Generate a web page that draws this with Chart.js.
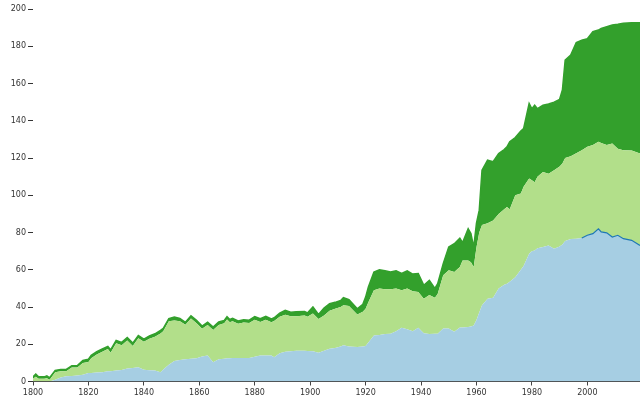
<!DOCTYPE html>
<html>
<head>
<meta charset="utf-8">
<script src="https://cdn.jsdelivr.net/npm/chart.js@4"></script>
<style>
  html, body { margin: 0; padding: 0; background: #fff; }
  #wrap { width: 640px; height: 400px; }
</style>
</head>
<body>
<div id="wrap"><canvas id="areas" width="640" height="400"></canvas></div>
<script>
const years = [
  1800, 1801, 1802, 1804, 1805, 1806, 1808, 1810, 1812, 1814, 1816, 1818, 1820, 1821, 1823, 1825,
  1827, 1828, 1830, 1832, 1834, 1836, 1838, 1840, 1842, 1844, 1846, 1847, 1849, 1851, 1853, 1855,
  1857, 1859, 1861, 1863, 1865, 1867, 1869, 1870, 1871, 1872, 1874, 1876, 1878, 1880, 1882, 1884,
  1886, 1887, 1889, 1891, 1893, 1895, 1898, 1899, 1901, 1903, 1905, 1907, 1909, 1911, 1912, 1914,
  1917, 1919, 1920, 1921, 1923, 1925, 1927, 1929, 1931, 1933, 1935, 1937, 1939, 1941, 1943, 1945,
  1946, 1948, 1950, 1952, 1954, 1955, 1957, 1958, 1959, 1960, 1961, 1962, 1964, 1966, 1968, 1970,
  1971, 1972, 1974, 1976, 1977, 1979, 1980, 1981, 1982, 1984, 1986, 1988, 1990, 1991, 1992, 1994,
  1996, 1998, 2000, 2002, 2004, 2005, 2007, 2009, 2011, 2013, 2016, 2019
];

const blueValues = [
  0, 0, 0, 0, 0, 0, 1.0, 2.2, 2.8, 3.0, 3.2, 3.6, 4.5, 4.6, 4.8, 5.0,
  5.5, 5.5, 5.9, 6.2, 7.0, 7.3, 7.6, 6.3, 6.0, 5.9, 5.0, 6.5, 9.0, 11.0, 11.6, 12.0,
  12.2, 12.5, 13.4, 14.0, 10.4, 12.0, 12.2, 12.5, 12.5, 12.6, 12.6, 12.6, 12.6, 13.3, 14.0, 14.0,
  14.0, 13.0, 15.2, 16.0, 16.3, 16.5, 16.5, 16.4, 16.3, 15.5, 16.5, 17.6, 18.0, 18.8, 19.4, 18.8,
  18.5, 18.8, 19.0, 21.0, 24.7, 25.0, 25.5, 25.6, 27.0, 28.8, 28.0, 27.0, 28.8, 25.9, 25.5, 25.6,
  25.6, 28.5, 28.5, 26.7, 29.0, 29.0, 29.2, 29.5, 30.1, 33.0, 37.0, 40.9, 44.4, 45.0, 50.0, 52.0,
  52.5, 53.5, 56.0, 60.0, 62.0, 68.6, 70.0, 70.4, 71.5, 72.2, 73.0, 71.3, 72.5, 73.5, 75.5, 76.5,
  76.7, 77.0, 78.5, 79.4, 82.0, 80.3, 79.8, 77.6, 78.5, 76.7, 75.8, 73.0
];

const lightGreenValues = [
  1.5, 2.5, 1.5, 1.5, 1.8, 1.0, 4.0, 3.3, 2.7, 4.5, 4.3, 6.4, 6.0, 7.9, 9.7, 11.0,
  12.0, 10.0, 14.6, 13.3, 15.0, 11.7, 15.6, 15.0, 17.0, 18.1, 20.8, 20.5, 23.3, 21.8, 20.7, 18.5,
  21.6, 18.8, 14.9, 16.3, 17.3, 18.4, 19.1, 20.8, 19.3, 19.8, 18.4, 19.1, 18.8, 19.9, 18.0, 19.2,
  17.8, 19.5, 19.6, 19.8, 18.7, 18.5, 19.0, 18.4, 20.2, 18.0, 19.0, 20.4, 21.0, 21.2, 21.6, 21.7,
  17.5, 18.7, 20.0, 21.5, 24.3, 25.0, 24.0, 23.9, 23.0, 20.2, 22.0, 21.5, 19.2, 18.5, 21.0, 19.4,
  21.4, 28.5, 31.2, 32.1, 32.5, 36.0, 35.8, 34.5, 31.4, 39.0, 43.0, 43.1, 40.6, 41.5, 40.0, 40.5,
  41.2, 39.0, 44.0, 41.0, 42.5, 40.4, 38.0, 36.6, 38.5, 40.3, 38.6, 42.1, 43.0, 43.5, 44.5, 44.5,
  45.8, 47.2, 47.5, 47.6, 46.7, 47.7, 47.2, 50.2, 46.5, 47.5, 48.2, 49.4
];

const darkGreenValues = [
  1.0, 1.5, 1.0, 1.0, 1.2, 1.0, 1.0, 1.0, 1.0, 1.0, 1.0, 1.3, 1.5, 1.5, 1.5, 1.5,
  1.3, 1.5, 1.5, 1.5, 1.6, 1.6, 1.5, 1.5, 1.5, 1.6, 1.6, 1.5, 1.5, 1.8, 1.5, 1.3,
  1.5, 1.5, 1.5, 1.5, 1.5, 1.6, 1.5, 1.5, 1.5, 1.5, 1.5, 1.5, 1.5, 1.7, 1.7, 1.8,
  1.8, 1.7, 1.9, 2.4, 2.2, 2.4, 2.1, 2.0, 3.5, 2.5, 4.0, 3.8, 3.5, 3.5, 4.0, 3.5,
  3.0, 4.0, 6.3, 8.2, 9.8, 10.0, 10.0, 9.3, 9.5, 9.0, 9.4, 9.2, 10.0, 7.2, 7.8, 5.0,
  5.5, 6.3, 12.5, 15.2, 15.5, 9.6, 17.0, 15.4, 10.5, 13.0, 12.0, 29.4, 33.8, 31.5, 32.4, 32.0,
  32.3, 36.2, 31.0, 33.5, 31.3, 40.3, 38.4, 41.3, 36.5, 35.8, 37.4, 36.6, 36.0, 39.5, 52.6, 54.3,
  59.5, 59.1, 58.0, 60.8, 60.0, 61.5, 63.5, 63.6, 66.8, 68.1, 68.6, 70.2
];

const yearTicks = [1800, 1820, 1840, 1860, 1880, 1900, 1920, 1940, 1960, 1980, 2000];
const lineFromYear = 1998;

function toPoints(values) {
  return years.map((yr, i) => ({ x: yr, y: values[i] }));
}

function buildDatasets() {
  const blueLine = toPoints(blueValues).filter((p) => p.x >= lineFromYear);

  return [
    {
      data: toPoints(blueValues),
      backgroundColor: '#a6cee3',
      borderWidth: 0,
      fill: 'origin',
      stack: 'areas',
    },
    {
      data: toPoints(lightGreenValues),
      backgroundColor: '#b2df8a',
      borderWidth: 0,
      fill: '-1',
      stack: 'areas',
    },
    {
      data: toPoints(darkGreenValues),
      backgroundColor: '#33a02c',
      borderColor: '#33a02c',
      borderWidth: 1.5,
      fill: '-1',
      stack: 'areas',
    },
    {
      // dark outline on the blue layer for the latest years
      data: blueLine,
      borderColor: '#1f78b4',
      borderWidth: 1.2,
      fill: false,
      stack: 'line',
      order: -1,
    },
  ];
}

function drawChart() {
  const tickFont = { family: 'DejaVu Sans', size: 8 };
  const ctx = document.getElementById('areas').getContext('2d');

  new Chart(ctx, {
    type: 'line',
    data: { datasets: buildDatasets() },
    options: {
      responsive: false,
      animation: false,
      events: [],
      elements: { point: { radius: 0 }, line: { tension: 0 } },
      layout: { padding: { top: 9, right: 0, left: 0, bottom: 0 } },
      plugins: {
        legend: { display: false },
        tooltip: { enabled: false },
      },
      scales: {
        x: {
          type: 'linear',
          min: 1800,
          max: 2019,
          afterBuildTicks: (scale) => {
            scale.ticks = yearTicks.map((v) => ({ value: v }));
          },
          afterFit: (scale) => {
            scale.height = 18.5;
          },
          border: { display: true, color: '#444', width: 1 },
          grid: { drawOnChartArea: false, tickLength: 4, color: '#444' },
          ticks: {
            color: '#333',
            font: tickFont,
            padding: 3,
            maxRotation: 0,
            autoSkip: false,
            callback: (value) => String(value), // plain years, no thousands separator
          },
        },
        y: {
          stacked: true,
          min: 0,
          max: 200,
          afterFit: (scale) => {
            scale.width = 33;
          },
          border: { display: false },
          grid: { drawOnChartArea: false, tickLength: 5, color: '#333' },
          ticks: { stepSize: 20, color: '#333', font: tickFont, padding: 2 },
        },
      },
    },
  });
}

drawChart();
</script>
</body>
</html>
